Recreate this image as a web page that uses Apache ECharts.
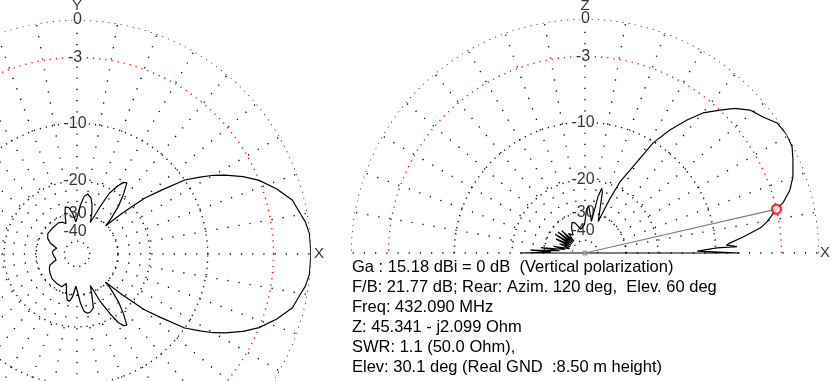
<!DOCTYPE html>
<html><head><meta charset="utf-8">
<script src="https://cdn.jsdelivr.net/npm/echarts@6/dist/echarts.min.js"></script>
<style>html,body{margin:0;padding:0;background:#fff}#c{width:834px;height:381px}</style>
</head><body><div id="c"></div>
<script>
// ---- Azimuth (horizontal) pattern, dB vs azimuth angle (deg, CCW from +X)
const azAngle = [0,5,8,10,14,18,22,25,28,30,32,34.5,37,39.5,42,44.5,46,49,52,55,57,59,62,64,67,70,73,76,80,83,86,89,92,96,100,104,107,110,114,121,135,145,152,158,164,170,176,180,184,190,196,202,208,215,225,235,245,250,254,258,261,264,268,271,274,277,280,283,287,290,293,296,299,301,303,305,308,311,314,315.5,318,320.5,323,325.5,328,330,332,335,338,342,346,350,352,355,360];
const azGain  = [0,-0.05,-0.25,-0.5,-0.9,-1.85,-3.0,-4.2,-5.7,-6.8,-8.2,-10,-13.5,-16.8,-23,-30,-27,-22.5,-19.5,-17,-17.3,-18.5,-21,-25.7,-33,-29,-26,-24,-23.1,-24,-26.8,-31,-34,-30,-27.5,-27,-30,-34,-32.7,-32,-32.3,-32.3,-33.5,-36,-41.3,-39.5,-38.5,-39,-39.5,-40.5,-40.7,-35.7,-34.5,-33.6,-32.5,-32.3,-32.1,-34.5,-31,-27.5,-27.3,-29,-34,-31,-26.8,-24,-23.3,-23.5,-24.5,-29,-33,-25.7,-21,-18.5,-17.3,-17,-19.5,-22.5,-27,-30,-23,-16.8,-13.5,-10,-8.2,-6.8,-5.7,-4.2,-3.0,-1.85,-0.9,-0.5,-0.25,-0.05,0];

// ---- Elevation (vertical) pattern, dB vs elevation angle (deg)
const elAngle = [0,0,1,2.2,2.4,3.2,3.9,5.8,8.1,9.7,12.9,14.2,17.1,20.1,24.1,27.1,30.3,34.1,37.4,40.9,44,46.6,49.9,52.5,55.4,58.3,60.3,63.8,65.5,67.2,71,74,75.5,77,78.5,82,85.5,88,91,100,108,113,118,124,130,133,136,139,142,145,148,151,154,157,160,164,168,170,173,175,177,178.5,180,180];
const elGain  = [-100,-7.1,-12.6,-9.8,-7.4,-8.6,-8.2,-6.65,-4.8,-4.07,-3.0,-2.34,-1.5,-0.95,-0.46,-0.1,0,-0.15,-0.75,-1.19,-2.0,-2.98,-4.21,-5.73,-7.69,-10.2,-13.8,-18.6,-24,-33,-28,-22.5,-21.5,-24,-34,-31,-27.5,-29,-36,-39,-34.5,-33.5,-36,-41,-38,-46,-34,-46,-33,-46,-32.5,-46,-34,-46,-37,-46,-34,-42,-28.5,-38,-25,-33,-22,-100];

const markerAngle = [12.9];
const markerGain  = [-3.0];

// grid
const ringLevels  = [0, -3, -10, -20, -30, -50];
const labelLevels = [0, -3, -10, -20, -30, -40];
const labelTexts  = ['0', '-3', '-10', '-20', '-30', '-40'];
const spokeStep = 10;
const spokeInnerLevel = -30;

const infoLines = [
  'Ga : 15.18 dBi = 0 dB  (Vertical polarization)',
  'F/B: 21.77 dB; Rear: Azim. 120 deg,  Elev. 60 deg',
  'Freq: 432.090 MHz',
  'Z: 45.341 - j2.099 Ohm',
  'SWR: 1.1 (50.0 Ohm),',
  'Elev: 30.1 deg (Real GND  :8.50 m height)'
];

// ARRL log scale: each 2 dB => factor 0.89
function toR(db){ return Math.pow(0.89, -db/2); }

const FONT = 'Liberation Sans, Arial, sans-serif';
const series = [];

function addGrid(pi, maxAng){
  ringLevels.forEach(lv=>{
    const d=[]; for(let a=0;a<=maxAng;a+=1) d.push([toR(lv), a]);
    series.push({type:'line', coordinateSystem:'polar', polarIndex:pi, data:d, showSymbol:false, silent:true, z:1,
      lineStyle:{color: lv===-3 ? '#ff0000' : '#000', width:1.4, type:[1.2,5]}});
  });
  for(let a=0;a<=maxAng - (maxAng===360?spokeStep:0);a+=spokeStep){
    series.push({type:'line', coordinateSystem:'polar', polarIndex:pi, data:[[toR(spokeInnerLevel),a],[1,a]], showSymbol:false, silent:true, z:1,
      lineStyle:{color:'#000', width:1.4, type:[1.2,10]}});
  }
  series.push({type:'scatter', coordinateSystem:'polar', polarIndex:pi, symbolSize:0, z:2, clip:false,
    data: labelLevels.map((lv,i)=>({value:[toR(lv),90], name:labelTexts[i],
      label:{offset:[labelTexts[i].length===1?0.5:-2,0]}})),
    label:{show:true, position:'inside', formatter:p=>p.name, color:'#000', fontSize:16, fontFamily:FONT,
      lineHeight:13, backgroundColor:'#fff', padding:[0,1]}});
}

addGrid(0, 360);
addGrid(1, 180);

// axis letters
series.push({type:'scatter', coordinateSystem:'polar', polarIndex:0, symbolSize:0, z:3, clip:false,
  data:[{value:[1.06,90],name:'Y'},{value:[1.034,0],name:'X'}],
  label:{show:true, position:'inside', formatter:p=>p.name, color:'#000', fontSize:15, fontFamily:FONT}});
series.push({type:'scatter', coordinateSystem:'polar', polarIndex:1, symbolSize:0, z:3, clip:false,
  data:[{value:[1.055,90],name:'Z'},{value:[1.0256,0],name:'X'}],
  label:{show:true, position:'inside', formatter:p=>p.name, color:'#000', fontSize:15, fontFamily:FONT}});

// patterns
series.push({type:'line', coordinateSystem:'polar', polarIndex:0, showSymbol:false, z:5,
  data: azAngle.map((a,i)=>[toR(azGain[i]), a]), lineStyle:{color:'#000', width:1.2}});
series.push({type:'line', coordinateSystem:'polar', polarIndex:1, showSymbol:false, z:5,
  data: elAngle.map((a,i)=>[toR(elGain[i]), a]), lineStyle:{color:'#000', width:1.2}});

// marker line and marker
series.push({type:'line', coordinateSystem:'polar', polarIndex:1, showSymbol:false, z:6,
  data:[[0, markerAngle[0]],[toR(markerGain[0]), markerAngle[0]]], lineStyle:{color:'#808080', width:1.2}});
series.push({type:'scatter', coordinateSystem:'polar', polarIndex:1, symbol:'rect', symbolSize:5, z:7,
  data:[[0,0]], itemStyle:{color:'#8c8c8c'}});
series.push({type:'scatter', coordinateSystem:'polar', polarIndex:1, symbol:'circle', symbolSize:9, z:8,
  data:[[toR(markerGain[0]), markerAngle[0]]], itemStyle:{color:'#fff', borderColor:'#ff0000', borderWidth:2.5}});

const axisOff = {axisLine:{show:false}, axisTick:{show:false}, axisLabel:{show:false}, splitLine:{show:false}, splitArea:{show:false}};
const chart = echarts.init(document.getElementById('c'), null, {renderer:'canvas'});
chart.setOption({
  animation:false,
  backgroundColor:'#fff',
  polar:[{center:[77,254], radius:234},{center:[585,253], radius:234}],
  angleAxis:[
    Object.assign({polarIndex:0, type:'value', min:0, max:360, startAngle:0, clockwise:false}, axisOff),
    Object.assign({polarIndex:1, type:'value', min:0, max:360, startAngle:0, clockwise:false}, axisOff)
  ],
  radiusAxis:[
    Object.assign({polarIndex:0, type:'value', min:0, max:1}, axisOff),
    Object.assign({polarIndex:1, type:'value', min:0, max:1}, axisOff)
  ],
  graphic:[{type:'text', left:352, top:257, silent:true,
    style:{text: infoLines.join('\n'), font:'16.5px '+FONT, lineHeight:20, fill:'#000'}}],
  series: series
});
</script></body></html>
